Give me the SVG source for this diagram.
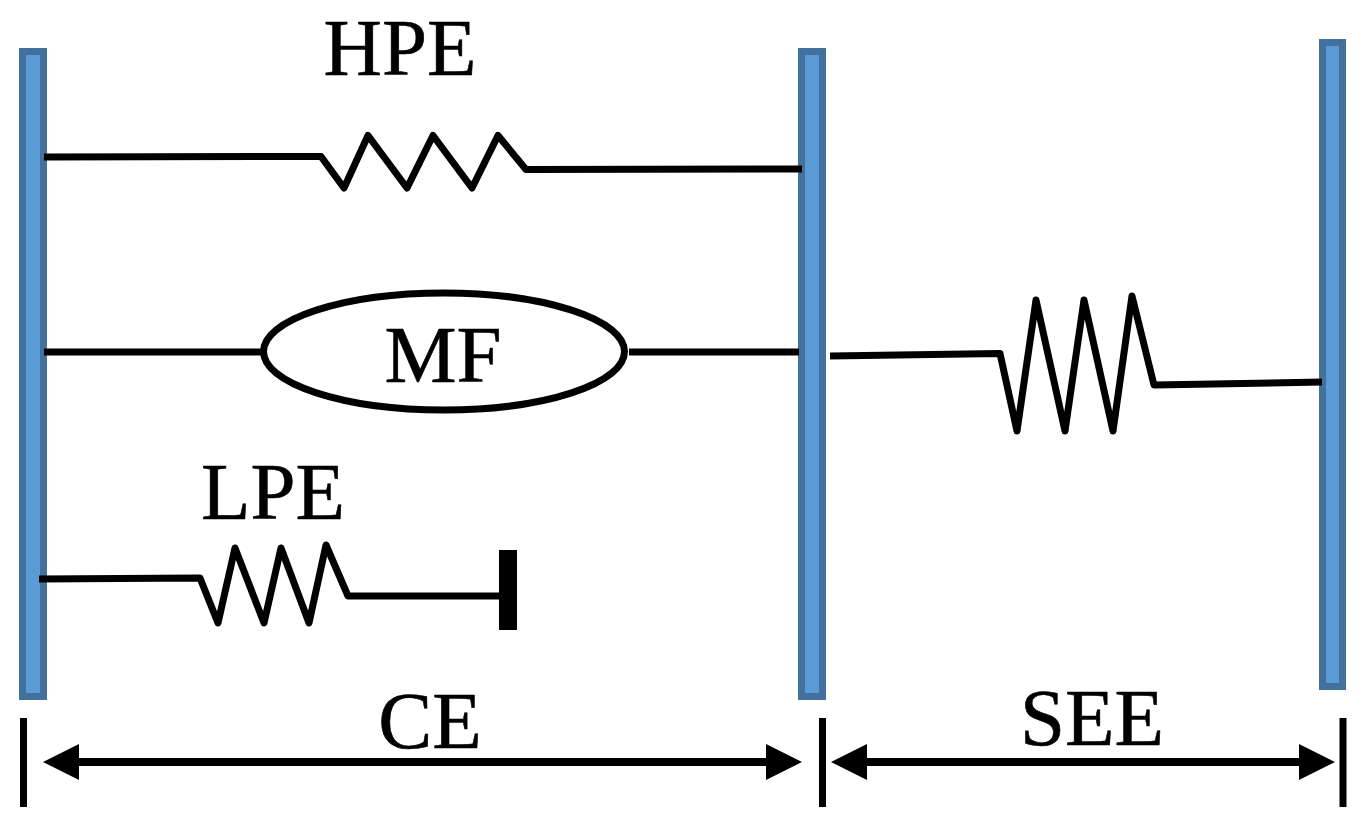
<svg xmlns="http://www.w3.org/2000/svg" width="1371" height="836" viewBox="0 0 1371 836">
<defs><style>
.bar{fill:#5b9bd5;stroke:#41719c;stroke-width:7}
.w{fill:none;stroke:#000;stroke-width:7;stroke-linejoin:round}
.t{font-family:"Liberation Serif",serif;font-size:81px;fill:#000;stroke:#000;stroke-width:.6;text-anchor:middle}
.tick{stroke:#000;stroke-width:7;fill:none}
.d{stroke:#000;stroke-width:8;fill:none}
</style></defs>
<rect width="1371" height="836" fill="#fff"/>
<g id="bar-left"><rect class="bar" x="22.5" y="51.5" width="21" height="645"/></g>
<g id="bar-mid"><rect class="bar" x="801.5" y="51.5" width="21" height="645"/></g>
<g id="bar-right"><rect class="bar" x="1322.5" y="42.5" width="20" height="644"/></g>
<g id="connectors">
<polyline class="w" points="44,157 321,156.500 344,188 368,135.500 407,188 433,135.500 472,188 498,135.500 526,169.500 802,169"/>
<line class="w" x1="44" y1="352" x2="262" y2="352"/>
<line class="w" x1="629" y1="352" x2="799" y2="352"/>
<polyline class="w" points="830,356 1000,353.500 1017,431 1036,300 1065,431 1084,300 1113,431 1132,296 1154,385 1322,382"/>
<polyline class="w" points="39,579 200,578 218,623 235,548 264,623 281,548 309,623 326,545 348,596 500,596"/>
</g>
<g id="node-hpe"><text class="t" x="400" y="75">HPE</text></g>
<g id="node-mf"><ellipse cx="444" cy="351.500" rx="180.500" ry="58.500" fill="#fff" stroke="#000" stroke-width="7"/><text class="t" x="443" y="382">MF</text></g>
<g id="node-lpe"><text class="t" x="273" y="519">LPE</text></g>
<g id="node-ground"><rect x="499" y="550" width="18" height="80" fill="#000"/></g>
<g id="dim-ce">
<line class="tick" x1="23.5" y1="718" x2="23.5" y2="807"/>
<line class="tick" x1="822.5" y1="718" x2="822.5" y2="807"/>
<line class="d" x1="70" y1="762" x2="775" y2="762"/>
<polygon points="43,762 79,744 79,780"/>
<polygon points="802,762 766,744 766,780"/>
<text class="t" x="430" y="748">CE</text>
</g>
<g id="dim-see">
<line class="tick" x1="1343" y1="718" x2="1343" y2="807"/>
<line class="d" x1="860" y1="762" x2="1308" y2="762"/>
<polygon points="831,762 867,744 867,780"/>
<polygon points="1335,762 1299,744 1299,780"/>
<text class="t" x="1092" y="745">SEE</text>
</g>
</svg>
